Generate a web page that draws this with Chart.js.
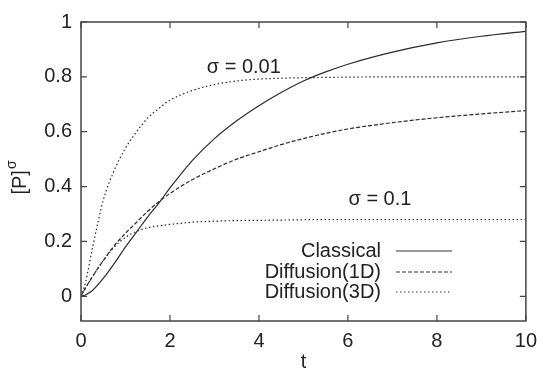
<!DOCTYPE html>
<html>
<head>
<meta charset="utf-8">
<script src="https://cdn.jsdelivr.net/npm/chart.js@4/dist/chart.umd.min.js"></script>
<style>
  html, body { margin: 0; padding: 0; background: #fff; }
  #wrap { width: 545px; height: 376px; }
</style>
</head>
<body>
<div id="wrap"><canvas id="c" width="545" height="376"></canvas></div>
<script>
// time grid shared by all curves
const tValues = [0, 0.1, 0.25, 0.5, 0.75, 1, 1.25, 1.5, 1.75, 2, 2.5, 3, 3.5, 4, 4.5, 5, 5.5, 6, 7, 8, 9, 10];

// curves
const classical   = [0, 0.005, 0.02, 0.065, 0.12, 0.18, 0.235, 0.29, 0.34, 0.395, 0.495, 0.575, 0.64, 0.695, 0.743, 0.785, 0.818, 0.846, 0.89, 0.924, 0.948, 0.966];
const diffusion1D = [0, 0.03, 0.07, 0.13, 0.185, 0.23, 0.27, 0.31, 0.345, 0.375, 0.425, 0.465, 0.5, 0.527, 0.553, 0.575, 0.594, 0.61, 0.633, 0.651, 0.665, 0.677];
const diff3D_001  = [0, 0.05, 0.17, 0.35, 0.46, 0.54, 0.6, 0.65, 0.685, 0.715, 0.75, 0.772, 0.785, 0.792, 0.795, 0.797, 0.798, 0.799, 0.8, 0.8, 0.8, 0.8];
const diff3D_01   = [0, 0.03, 0.07, 0.13, 0.18, 0.215, 0.237, 0.25, 0.257, 0.262, 0.27, 0.274, 0.276, 0.277, 0.278, 0.279, 0.28, 0.28, 0.28, 0.28, 0.28, 0.28];

const xTicks = [0, 2, 4, 6, 8, 10];
const yTicks = [0, 0.2, 0.4, 0.6, 0.8, 1];

const legendLabels = ['Classical', 'Diffusion(1D)', 'Diffusion(3D)'];
const legendDash = [[], [4, 2], [1.5, 2.5]];

const FONT = '"Liberation Sans", Arial, Helvetica, sans-serif';

function pts(arr) {
    return arr.map((v, i) => ({ x: tValues[i], y: v }));
}

// frame, inward ticks, titles, labels and legend
const decor = {
    id: 'decor',
    afterDraw(chart) {
        const ctx = chart.ctx;
        const a = chart.chartArea;
        const xs = chart.scales.x, ys = chart.scales.y;
        ctx.save();

        // frame
        ctx.strokeStyle = '#444';
        ctx.lineWidth = 1.5;
        ctx.strokeRect(a.left, a.top, a.right - a.left, a.bottom - a.top);

        // inward ticks on all four sides
        ctx.lineWidth = 1.2;
        ctx.beginPath();
        xTicks.forEach(v => {
            const px = xs.getPixelForValue(v);
            ctx.moveTo(px, a.bottom); ctx.lineTo(px, a.bottom - 6);
            ctx.moveTo(px, a.top); ctx.lineTo(px, a.top + 6);
        });
        yTicks.forEach(v => {
            const py = ys.getPixelForValue(v);
            ctx.moveTo(a.left, py); ctx.lineTo(a.left + 6, py);
            ctx.moveTo(a.right, py); ctx.lineTo(a.right - 6, py);
        });
        ctx.stroke();

        ctx.fillStyle = '#222';

        // x title
        ctx.font = '20px ' + FONT;
        ctx.textAlign = 'center';
        ctx.textBaseline = 'middle';
        ctx.fillText('t', (a.left + a.right) / 2, 362);

        // y title: [P] with superscript sigma
        ctx.save();
        ctx.translate(20, 178);
        ctx.rotate(-Math.PI / 2);
        ctx.font = '20px ' + FONT;
        const w1 = ctx.measureText('[P]').width;
        ctx.font = '14px ' + FONT;
        const w2 = ctx.measureText('σ').width;
        const start = -(w1 + w2) / 2;
        ctx.textAlign = 'left';
        ctx.font = '20px ' + FONT;
        ctx.fillText('[P]', start, 0);
        ctx.font = '14px ' + FONT;
        ctx.fillText('σ', start + w1 + 1, -8);
        ctx.restore();

        // sigma annotations
        ctx.font = '20px ' + FONT;
        ctx.textAlign = 'center';
        ctx.fillText('σ = 0.01', xs.getPixelForValue(3.66), ys.getPixelForValue(0.836));
        ctx.fillText('σ = 0.1', xs.getPixelForValue(6.72), ys.getPixelForValue(0.354));

        // legend
        const rowY = [251, 272, 292];
        legendLabels.forEach((lab, i) => {
            ctx.textAlign = 'right';
            ctx.fillStyle = '#222';
            ctx.fillText(lab, 381, rowY[i]);
            ctx.beginPath();
            ctx.setLineDash(legendDash[i]);
            ctx.strokeStyle = '#333';
            ctx.lineWidth = 1.2;
            ctx.moveTo(396, rowY[i]);
            ctx.lineTo(452, rowY[i]);
            ctx.stroke();
        });
        ctx.setLineDash([]);
        ctx.restore();
    }
};

function series(label, arr, dash) {
    return {
        label: label,
        data: pts(arr),
        borderColor: '#2a2a2a',
        borderWidth: 1.2,
        borderDash: dash,
        pointRadius: 0,
        fill: false,
        cubicInterpolationMode: 'monotone'
    };
}

new Chart(document.getElementById('c'), {
    type: 'line',
    data: {
        datasets: [
            series('Classical', classical, []),
            series('Diffusion(1D)', diffusion1D, [4, 2]),
            series('Diffusion(3D) σ=0.01', diff3D_001, [1.5, 2.5]),
            series('Diffusion(3D) σ=0.1', diff3D_01, [1.5, 2.5])
        ]
    },
    options: {
        responsive: false,
        animation: false,
        devicePixelRatio: 1,
        layout: { padding: { top: 22, right: 16, left: 0, bottom: 0 } },
        plugins: { legend: { display: false }, tooltip: { enabled: false } },
        scales: {
            x: {
                type: 'linear',
                min: 0, max: 10,
                afterBuildTicks: s => { s.ticks = xTicks.map(v => ({ value: v })); },
                afterFit: s => { s.height = 55; },
                grid: { display: false, drawTicks: false },
                border: { display: false },
                ticks: {
                    padding: 8,
                    color: '#222',
                    font: { family: FONT, size: 20 },
                    maxRotation: 0,
                    callback: v => String(v)
                }
            },
            y: {
                type: 'linear',
                min: -0.09, max: 1,
                afterBuildTicks: s => { s.ticks = yTicks.map(v => ({ value: v })); },
                afterFit: s => { s.width = 81; },
                grid: { display: false, drawTicks: false },
                border: { display: false },
                ticks: {
                    padding: 9,
                    color: '#222',
                    font: { family: FONT, size: 20 },
                    callback: v => String(Math.round(v * 10) / 10)
                }
            }
        }
    },
    plugins: [decor]
});
</script>
</body>
</html>
